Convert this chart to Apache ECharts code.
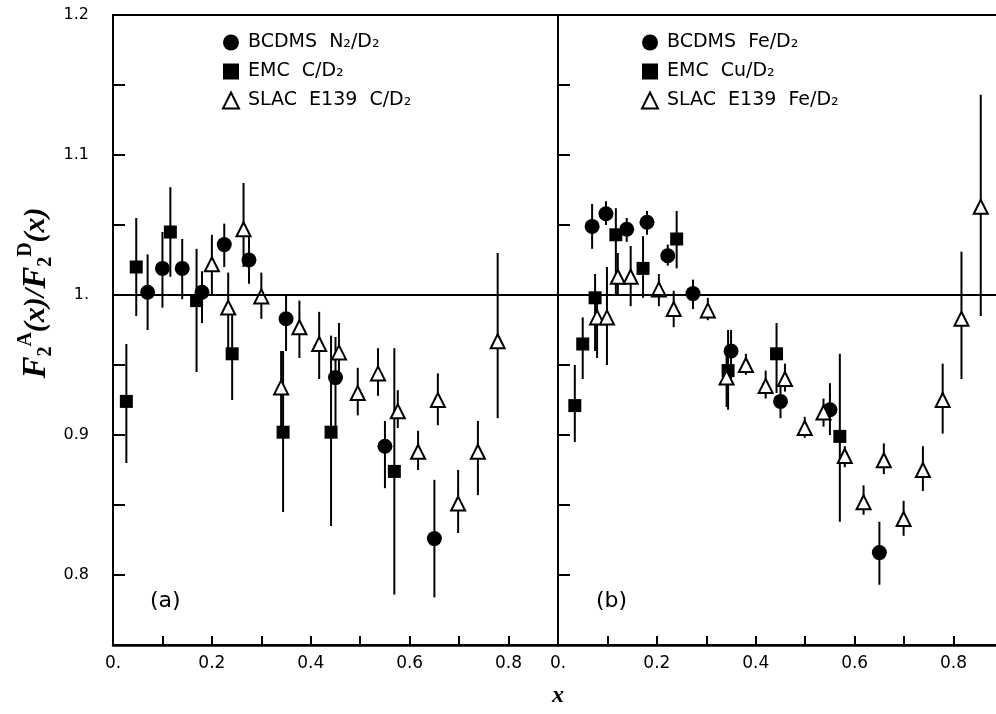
<!DOCTYPE html>
<html>
<head>
<meta charset="utf-8">
<script src="https://cdn.jsdelivr.net/npm/echarts@6/dist/echarts.min.js"></script>
<style>
  html, body { margin: 0; padding: 0; background: #fff; overflow: hidden; }
  #wrap { width: 996px; height: 714px; overflow: hidden; }
  #chart { width: 1012px; height: 714px; }
</style>
</head>
<body>
<div id="wrap"><div id="chart"></div></div>
<script>
// panel (a)
const n2X = [0.07, 0.10, 0.14, 0.18, 0.225, 0.275, 0.35, 0.45, 0.55, 0.65]
const n2Y = [1.002, 1.019, 1.019, 1.002, 1.036, 1.025, 0.983, 0.941, 0.892, 0.826]
const n2Lo = [0.975, 0.991, 0.997, 0.980, 1.020, 1.008, 0.960, 0.903, 0.862, 0.784]
const n2Hi = [1.029, 1.045, 1.040, 1.017, 1.051, 1.042, 1.000, 0.970, 0.910, 0.868]

const emcCX = [0.027, 0.047, 0.116, 0.169, 0.241, 0.344, 0.441, 0.569]
const emcCY = [0.924, 1.020, 1.045, 0.996, 0.958, 0.902, 0.902, 0.874]
const emcCLo = [0.880, 0.985, 1.013, 0.945, 0.925, 0.845, 0.835, 0.786]
const emcCHi = [0.965, 1.055, 1.077, 1.033, 0.990, 0.960, 0.971, 0.962]

const slacCX = [0.20, 0.233, 0.264, 0.30, 0.34, 0.377, 0.417, 0.457, 0.495, 0.536, 0.576, 0.617, 0.657, 0.698, 0.738, 0.778]
const slacCY = [1.022, 0.991, 1.047, 0.999, 0.934, 0.977, 0.965, 0.959, 0.930, 0.944, 0.917, 0.888, 0.925, 0.851, 0.888, 0.967]
const slacCLo = [1.000, 0.960, 1.020, 0.983, 0.905, 0.955, 0.940, 0.940, 0.914, 0.928, 0.905, 0.875, 0.907, 0.830, 0.857, 0.912]
const slacCHi = [1.043, 1.016, 1.080, 1.016, 0.960, 0.996, 0.988, 0.980, 0.948, 0.962, 0.932, 0.903, 0.944, 0.875, 0.910, 1.030]

// panel (b)
const feX = [0.069, 0.097, 0.139, 0.18, 0.222, 0.273, 0.35, 0.45, 0.55, 0.65]
const feY = [1.049, 1.058, 1.047, 1.052, 1.028, 1.001, 0.960, 0.924, 0.918, 0.816]
const feLo = [1.033, 1.050, 1.038, 1.043, 1.021, 0.990, 0.940, 0.912, 0.900, 0.793]
const feHi = [1.065, 1.067, 1.055, 1.060, 1.036, 1.011, 0.975, 0.937, 0.937, 0.838]

const emcCuX = [0.034, 0.05, 0.075, 0.117, 0.172, 0.24, 0.344, 0.442, 0.57]
const emcCuY = [0.921, 0.965, 0.998, 1.043, 1.019, 1.040, 0.946, 0.958, 0.899]
const emcCuLo = [0.895, 0.940, 0.960, 1.000, 0.998, 1.019, 0.918, 0.930, 0.838]
const emcCuHi = [0.950, 0.984, 1.015, 1.062, 1.042, 1.060, 0.975, 0.980, 0.958]

const slacFeX = [0.079, 0.099, 0.121, 0.147, 0.204, 0.234, 0.303, 0.341, 0.38, 0.42, 0.459, 0.499, 0.537, 0.58, 0.618, 0.659, 0.699, 0.738, 0.778, 0.816, 0.855]
const slacFeY = [0.984, 0.984, 1.013, 1.013, 1.004, 0.990, 0.989, 0.941, 0.950, 0.935, 0.940, 0.905, 0.916, 0.885, 0.852, 0.882, 0.840, 0.875, 0.925, 0.983, 1.063]
const slacFeLo = [0.955, 0.950, 1.000, 0.992, 0.992, 0.977, 0.982, 0.920, 0.943, 0.926, 0.931, 0.898, 0.906, 0.877, 0.843, 0.872, 0.828, 0.860, 0.901, 0.940, 0.985]
const slacFeHi = [1.000, 1.020, 1.030, 1.035, 1.015, 1.003, 0.998, 0.960, 0.958, 0.946, 0.951, 0.913, 0.926, 0.892, 0.864, 0.894, 0.853, 0.892, 0.951, 1.031, 1.143]

const yTickLabels = { 120: '1.2', 110: '1.1', 100: '1.', 90: '0.9', 80: '0.8' }
const xTickLabels = { 0: '0.', 2: '0.2', 4: '0.4', 6: '0.6', 8: '0.8' }

const font = 'DejaVu Sans'
const serif = 'Liberation Serif'
let chart = echarts.init(document.getElementById('chart'))

function pts(xs, ys) {
    return xs.map((x, i) => [x, ys[i]])
}

function errBars(xs, lo, hi, idx) {
    return {
        type: 'custom',
        xAxisIndex: idx,
        yAxisIndex: idx,
        silent: true,
        z: 1,
        data: xs.map((x, i) => [x, lo[i], hi[i]]),
        encode: { x: 0, y: [1, 2] },
        renderItem: (params, api) => {
            let a = api.coord([api.value(0), api.value(1)])
            let b = api.coord([api.value(0), api.value(2)])
            return {
                type: 'line',
                shape: { x1: a[0], y1: a[1], x2: b[0], y2: b[1] },
                style: { stroke: '#000', lineWidth: 2 }
            }
        }
    }
}

const filled = { color: '#000', opacity: 1 }
const hollow = { color: '#fff', borderColor: '#000', borderWidth: 2, opacity: 1 }
const oneLine = {
    silent: true,
    symbol: 'none',
    label: { show: false },
    lineStyle: { color: '#000', width: 2, type: 'solid' },
    data: [{ yAxis: 1 }]
}

function xAxis(idx) {
    return {
        type: 'value', gridIndex: idx, min: 0, max: 0.9, interval: 0.1,
        axisLine: { show: true, lineStyle: { color: '#000', width: 2.5 } },
        axisTick: { inside: true, length: 9, lineStyle: { color: '#000', width: 2 } },
        splitLine: { show: false },
        axisLabel: {
            color: '#000', fontSize: 17, fontFamily: font, margin: 10, showMaxLabel: false,
            formatter: v => xTickLabels[Math.round(v * 10)] || ''
        }
    }
}

function yAxis(idx) {
    return {
        type: 'value', gridIndex: idx, min: 0.75, max: 1.2, interval: 0.05,
        axisLine: { show: true, lineStyle: { color: '#000', width: 2 } },
        axisTick: { inside: true, length: 12, lineStyle: { color: '#000', width: 2 } },
        splitLine: { show: false },
        axisLabel: {
            show: idx === 0, color: '#000', fontSize: 16, fontFamily: font, margin: 24,
            formatter: v => yTickLabels[Math.round(v * 100)] || ''
        }
    }
}

function legend(left, names) {
    return {
        data: names,
        left: left,
        top: 27,
        orient: 'vertical',
        itemGap: 8,
        itemWidth: 16,
        itemHeight: 16,
        textStyle: { color: '#000', fontSize: 19, fontFamily: font, lineHeight: 21, padding: [0, 0, 0, 4] }
    }
}

const titleRich = {
    f: { fontFamily: serif, fontStyle: 'italic', fontWeight: 'bold', fontSize: 33, fill: '#000', lineHeight: 40 },
    t: { fontFamily: serif, fontStyle: 'italic', fontWeight: 'bold', fontSize: 30, fill: '#000', lineHeight: 40 },
    s: { fontFamily: serif, fontWeight: 'bold', fontSize: 20, fill: '#000', verticalAlign: 'bottom', lineHeight: 40, padding: [14, 0, 0, 0] },
    u: { fontFamily: serif, fontWeight: 'bold', fontSize: 20, fill: '#000', verticalAlign: 'top', lineHeight: 40, padding: [0, 0, 16, 0] }
}

let options = {
    animation: false,
    backgroundColor: '#fff',
    grid: [
        { left: 113, top: 15, width: 445, height: 630, show: true, borderColor: '#000', borderWidth: 2 },
        { left: 558, top: 15, width: 445, height: 630, show: true, borderColor: '#000', borderWidth: 2 }
    ],
    xAxis: [xAxis(0), xAxis(1)],
    yAxis: [yAxis(0), yAxis(1)],
    legend: [
        legend(217, ['BCDMS  N₂/D₂', 'EMC  C/D₂', 'SLAC  E139  C/D₂']),
        legend(636, ['BCDMS  Fe/D₂', 'EMC  Cu/D₂', 'SLAC  E139  Fe/D₂'])
    ],
    graphic: [
        { type: 'text', left: 150, top: 590, style: { text: '(a)', fontSize: 22, fontFamily: font, fill: '#000' } },
        { type: 'text', left: 596, top: 590, style: { text: '(b)', fontSize: 22, fontFamily: font, fill: '#000' } },
        { type: 'text', left: 552, top: 684, style: { text: 'x', fontSize: 24, fontFamily: serif, fontStyle: 'italic', fontWeight: 'bold', fill: '#000' } },
        {
            type: 'text', x: 36, y: 293, rotation: Math.PI / 2,
            style: {
                text: '{f|F}{s|2}{u|A}{t|(x)/}{f|F}{s|2}{u|D}{t|(x)}',
                rich: titleRich, align: 'center', verticalAlign: 'middle', fill: '#000'
            }
        }
    ],
    series: [
        errBars(n2X, n2Lo, n2Hi, 0),
        errBars(emcCX, emcCLo, emcCHi, 0),
        errBars(slacCX, slacCLo, slacCHi, 0),
        errBars(feX, feLo, feHi, 1),
        errBars(emcCuX, emcCuLo, emcCuHi, 1),
        errBars(slacFeX, slacFeLo, slacFeHi, 1),
        { name: 'BCDMS  N₂/D₂', type: 'scatter', xAxisIndex: 0, yAxisIndex: 0, symbol: 'circle', symbolSize: 15, itemStyle: filled, data: pts(n2X, n2Y), z: 3 },
        { name: 'EMC  C/D₂', type: 'scatter', xAxisIndex: 0, yAxisIndex: 0, symbol: 'rect', symbolSize: 13, itemStyle: filled, data: pts(emcCX, emcCY), z: 3 },
        { name: 'SLAC  E139  C/D₂', type: 'scatter', xAxisIndex: 0, yAxisIndex: 0, symbol: 'triangle', symbolSize: 14, itemStyle: hollow, data: pts(slacCX, slacCY), z: 4, markLine: oneLine },
        { name: 'BCDMS  Fe/D₂', type: 'scatter', xAxisIndex: 1, yAxisIndex: 1, symbol: 'circle', symbolSize: 15, itemStyle: filled, data: pts(feX, feY), z: 3 },
        { name: 'EMC  Cu/D₂', type: 'scatter', xAxisIndex: 1, yAxisIndex: 1, symbol: 'rect', symbolSize: 13, itemStyle: filled, data: pts(emcCuX, emcCuY), z: 3 },
        { name: 'SLAC  E139  Fe/D₂', type: 'scatter', xAxisIndex: 1, yAxisIndex: 1, symbol: 'triangle', symbolSize: 14, itemStyle: hollow, data: pts(slacFeX, slacFeY), z: 4, markLine: oneLine }
    ]
}
options && chart.setOption(options)
</script>
</body>
</html>
